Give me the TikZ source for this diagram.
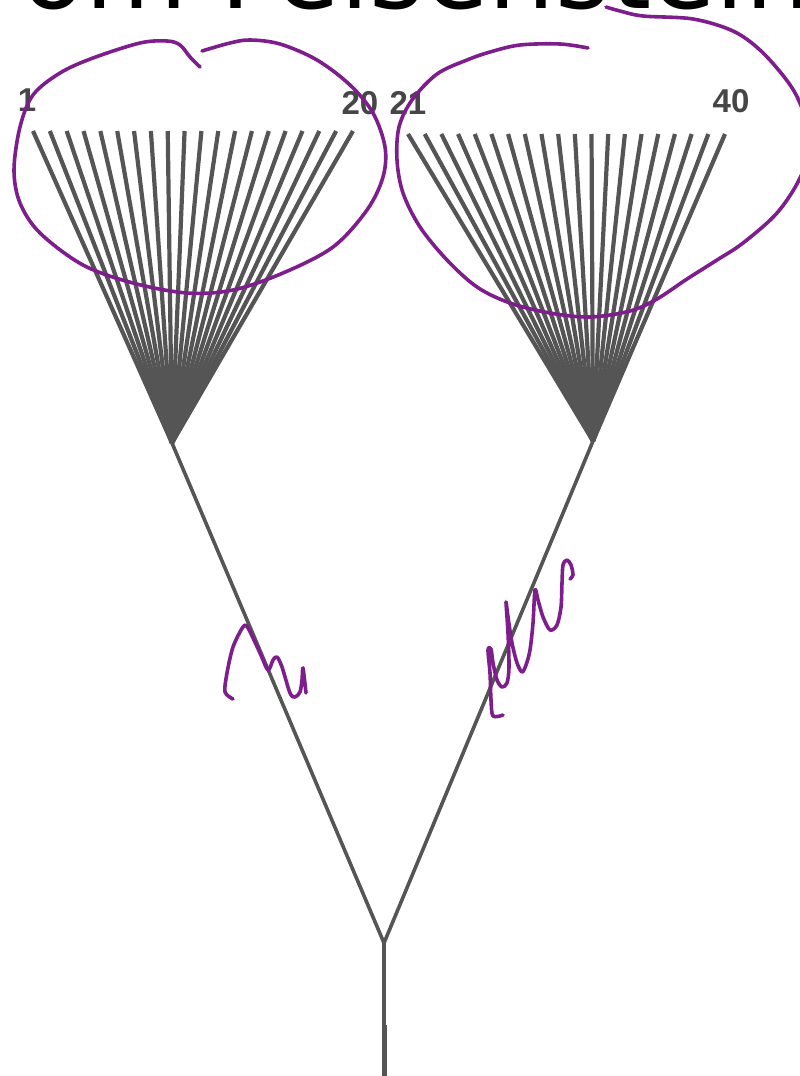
\documentclass[tikz,border=0pt]{standalone}
\usepackage{fontspec}
\setmainfont{DejaVu Sans}
\newfontfamily\labfont{Liberation Sans}
\definecolor{treegray}{RGB}{85,85,85}
\definecolor{labgray}{RGB}{70,70,70}
\definecolor{ink}{RGB}{125,30,140}
\begin{document}
\begin{tikzpicture}[x=1pt,y=-1pt,
  tipline/.style={draw=treegray,line width=4.2pt},
  branch/.style={draw=treegray,line width=3.6pt},
  stem/.style={draw=treegray,line width=5pt},
  tiplabel/.style={text=labgray,font=\labfont\bfseries\fontsize{33}{33}\selectfont,inner sep=0pt},
  pen/.style={draw=ink,line width=3.6pt,line cap=round,line join=round},
  titletext/.style={font=\fontsize{105}{110}\selectfont,inner sep=0pt,anchor=base west}]
\useasboundingbox (0,0) rectangle (800,1076);
\clip (0,0) rectangle (800,1076);
% cut-off title
\node[titletext] (title) at (21,9) {\llap{fr}om Felsenstein};
% tips
\foreach \i in {1,...,20} \coordinate (t\i) at ({33+(\i-1)*320/19},131);
\foreach \i in {21,...,40} \coordinate (t\i) at ({408+(\i-21)*317/19},134);
\coordinate (a1) at (172,443);
\coordinate (a2) at (593,441);
\coordinate (r) at (384,943);
\coordinate (m) at (384,1025);
\coordinate (b) at (384,1080);
\foreach \i in {1,...,20} \draw[tipline] (t\i) -- (a1);
\foreach \i in {21,...,40} \draw[tipline] (t\i) -- (a2);
\draw[branch] (a1) -- (r);
\draw[branch] (a2) -- (r);
\draw[branch] (r) -- (m);
\draw[stem] (m) -- (b);
% tip labels
\node[tiplabel] (l1) at (27,100) {1};
\node[tiplabel] (l20) at (360,103) {20};
\node[tiplabel] (l21) at (408,103) {21};
\node[tiplabel] (l40) at (731,101) {40};
% handwritten annotations
\draw[pen] plot[smooth,tension=0.55] coordinates {(200,67) (190,57) (180,45) (167,41) (140,43) (93,58) (60,73) (33,95) (20,127) (14,170) (20,203) (40,233) (83,265) (133,283) (187,293) (233,290) (283,273) (333,247) (367,210) (383,177) (385,147) (373,113) (350,85) (317,60) (280,44) (250,40) (230,43) (202,51)};
\draw[pen] plot[smooth,tension=0.55] coordinates {(588,48) (560,44) (520,45) (490,52) (467,60) (437,74) (412,100) (399,127) (397,160) (403,193) (420,227) (447,260) (477,287) (510,303) (550,313) (590,317) (630,311) (657,299) (687,279) (717,260) (743,243) (777,213) (800,178) (812,140) (799,101) (785,78) (760,50) (733,31) (693,19) (643,16) (620,11) (606,7)};
\draw[pen] plot[smooth,tension=0.5] coordinates {(233,699) (225,692) (227,673) (233,647) (243,627) (248,628) (260,653) (268,670) (273,660) (277,657) (282,667) (290,693) (295,697) (300,692) (302,680) (303,668) (306,693)};
\draw[pen] plot[smooth,tension=0.5] coordinates {(503,715) (493,716) (491,700) (490,673) (488,650) (491,649) (493,663) (497,680) (502,687) (507,683) (509,667) (508,633) (506,602) (508,617) (512,643) (517,663) (522,672) (526,665) (530,650) (533,623) (535,590) (538,600) (543,617) (550,630) (557,625) (561,607) (562,583) (563,565) (567,560) (571,565) (573,575) (570,579)};
\end{tikzpicture}
\end{document}
